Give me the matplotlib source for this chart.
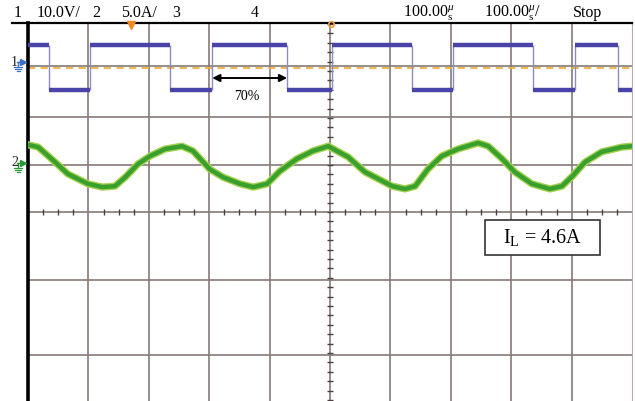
import numpy as np
import matplotlib
matplotlib.use("Agg")
import matplotlib.pyplot as plt
from matplotlib.lines import Line2D
from matplotlib.patches import Rectangle

plt.rcParams['font.family'] = ['Liberation Serif', 'DejaVu Serif']
plt.rcParams['mathtext.fontset'] = 'custom'
plt.rcParams['mathtext.rm'] = 'Liberation Serif'
plt.rcParams['mathtext.it'] = 'Liberation Serif:italic'

# ---------------- data (divisions) ----------------
header_labels = ["1", "10.0V/", "2", "5.0A/", "3", "4",
                 "100.00$^{\\mu}_{\\mathrm{s}}$", "100.00$^{\\mu}_{\\mathrm{s}}$/", "Stop"]

ch1_high = 3.55
ch1_low = 2.60
ch1_fall_edges = [0.35, 2.35, 4.29, 6.36, 8.36, 9.77]
ch1_rise_edges = [1.03, 3.05, 5.03, 7.04, 9.06]
ch1_ground = 3.06

ch2_x = [0.00, 0.17, 0.45, 0.66, 0.99, 1.23, 1.44, 1.61, 1.82, 2.02, 2.27, 2.55,
         2.73, 3.01, 3.23, 3.51, 3.73, 3.96, 4.17, 4.45, 4.72, 4.97, 5.30, 5.58,
         6.03, 6.24, 6.41, 6.62, 6.85, 7.12, 7.45, 7.62, 7.85, 8.06, 8.34, 8.64,
         8.84, 9.02, 9.22, 9.50, 9.83, 10.0]
ch2_y = [1.43, 1.38, 1.06, 0.81, 0.60, 0.53, 0.55, 0.74, 1.02, 1.19, 1.34, 1.40,
         1.30, 0.91, 0.74, 0.60, 0.53, 0.60, 0.87, 1.13, 1.30, 1.40, 1.17, 0.85,
         0.55, 0.49, 0.55, 0.91, 1.19, 1.34, 1.47, 1.40, 1.13, 0.85, 0.60, 0.49,
         0.55, 0.77, 1.06, 1.28, 1.38, 1.40]

duty_label = "70%"
current_label = "I$_{\\mathrm{L}}$ = 4.6A"

# ---------------- figure ----------------
W, H = 635, 402
fig = plt.figure(figsize=(W / 100, H / 100), dpi=100)
ax = fig.add_axes([28 / W, 0, (632 - 28) / W, 1 - 24 / H])
ax.set_xlim(0, 10)
ax.set_ylim(-4.02, 4.02)
ax.set_xticks([]); ax.set_yticks([])
for s in ['top', 'bottom']:
    ax.spines[s].set_visible(False)
ax.spines['left'].set_linewidth(2.6)
ax.spines['left'].set_color('black')
ax.spines['right'].set_linewidth(0.8)
ax.spines['right'].set_color('#b5adad')

grid_c = '#857a78'
for gx in range(1, 10):
    ax.axvline(gx, color=grid_c, lw=1.2, zorder=1)
for gy in [3.11, 2.02, 1.0, 0.0, -1.45, -3.04]:
    ax.axhline(gy, color=grid_c, lw=1.2, zorder=1)

# center-line ticks
tx = np.arange(0.25, 10, 0.25)
tx = tx[np.abs(tx - np.round(tx)) > 1e-6]
ax.plot(tx, np.zeros_like(tx), ls='none', marker='|', ms=4.5, mew=1.0, color='#4a4040', zorder=2)
ty = np.arange(-4.0, 4.01, 0.2)
ax.plot(np.full_like(ty, 5.0), ty, ls='none', marker='_', ms=4.5, mew=1.0, color='#4a4040', zorder=2)

# channel 1 ground level
ax.axhline(ch1_ground, color='#f0b040', lw=1.3, ls=(0, (4, 3)), zorder=2)

# channel 1 square wave
edges = sorted([(e, 'f') for e in ch1_fall_edges] + [(e, 'r') for e in ch1_rise_edges])
level = ch1_high
start = 0.0
for e, kind in edges:
    ax.hlines(level, start, e, color='#4b44a8', lw=3.2, zorder=4)
    ax.vlines(e, ch1_low, ch1_high, color='#8c8cc0', lw=1.0, zorder=3)
    level = ch1_low if kind == 'f' else ch1_high
    start = e
ax.hlines(level, start, 10, color='#4b44a8', lw=3.2, zorder=4)

# channel 2 current
ax.plot(ch2_x, ch2_y, color='#a6d050', lw=5.2, zorder=4, solid_capstyle='round', solid_joinstyle='round')
ax.plot(ch2_x, ch2_y, color='#38a02c', lw=3.2, zorder=5, solid_capstyle='round', solid_joinstyle='round')

# duty arrow
ax.annotate('', xy=(ch1_fall_edges[2], 2.85), xytext=(ch1_rise_edges[1], 2.85),
            arrowprops=dict(arrowstyle='<|-|>', color='black', lw=1.4,
                            mutation_scale=11, shrinkA=0, shrinkB=0), zorder=6)
ax.text(3.62, 2.47, duty_label, ha='center', va='center', fontsize=10, zorder=6)

# current label box
bx0, bx1 = (485 - 28) / 604, (600 - 28) / 604
by0, by1 = (402 - 256) / 378, (402 - 221) / 378
ax.add_patch(Rectangle((bx0, by0), bx1 - bx0, by1 - by0, transform=ax.transAxes,
                       fc='white', ec='#333333', lw=1.2, zorder=7))
ax.text((bx0 + bx1) / 2, (by0 + by1) / 2 + 0.002, current_label, transform=ax.transAxes,
        ha='center', va='center', fontsize=14.5, zorder=8)

# ---------------- header ----------------
def fx(px):
    return px / W

def fy(py):
    return 1 - py / H

fig.add_artist(Line2D([fx(12), fx(632)], [fy(24), fy(24)], color='black', lw=1.6))
header_x = [14, 37, 92, 121, 172, 251, 403, 484, 573]
for lab, x in zip(header_labels, header_x):
    fig.text(fx(x), fy(13), lab, ha='left', va='center', fontsize=11.5)

# trigger markers
fig.add_artist(Line2D([fx(131)], [fy(26)], marker='v', ms=6, color='#f08a20', ls='none'))
fig.add_artist(Line2D([fx(331)], [fy(25)], marker='o', ms=4, mfc='none', mec='#f0a030', mew=1.2, ls='none'))

# channel markers on the left
def chan_marker(num, py, color):
    fig.text(fx(11), fy(py - 1), num, ha='left', va='center', fontsize=10, color='#222222')
    fig.add_artist(Line2D([fx(17), fx(22)], [fy(py), fy(py)], color=color, lw=1.0))
    fig.add_artist(Line2D([fx(23)], [fy(py)], marker='>', ms=5, color=color, ls='none'))
    fig.add_artist(Line2D([fx(18), fx(18)], [fy(py), fy(py + 5)], color=color, lw=1.0))
    for i, w in enumerate([4, 3, 1.5]):
        yy = py + 5 + i * 2.2
        fig.add_artist(Line2D([fx(18 - w), fx(18 + w)], [fy(yy), fy(yy)], color=color, lw=0.9))

chan_marker("1", 63, '#3a70c8')
chan_marker("2", 164, '#2a9a3a')

fig.savefig("out.png", dpi=100)
